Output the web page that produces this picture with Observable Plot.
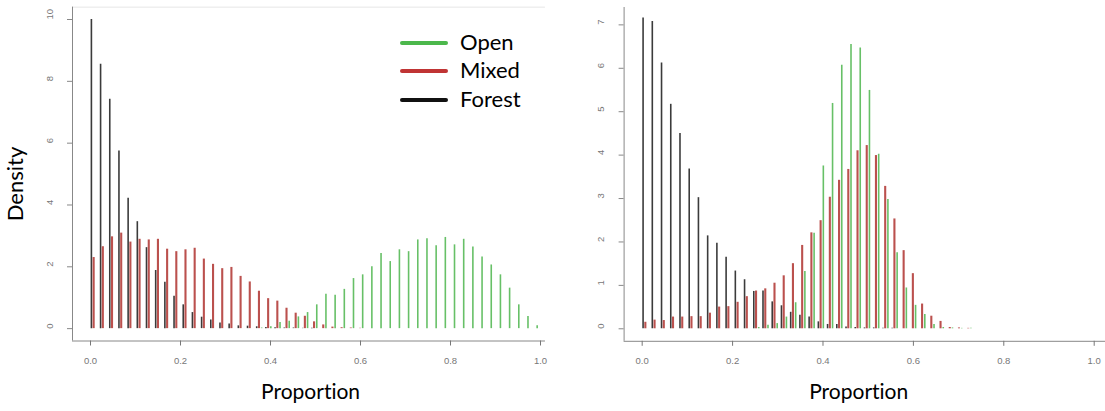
<!DOCTYPE html>
<html><head><meta charset="utf-8">
<script src="https://cdn.jsdelivr.net/npm/d3@7"></script>
<script src="https://cdn.jsdelivr.net/npm/@observablehq/plot@0.6"></script>
<style>
body{margin:0;background:#fff;}
#wrap{position:relative;width:1105px;height:411px;overflow:hidden;background:#fff;}
#left{position:absolute;left:0;top:0;}
#right{position:absolute;left:560px;top:0;}
svg text{font-variant-ligatures:none;}
.t{position:absolute;font-family:Lato,"Open Sans",sans-serif;color:#000;white-space:nowrap;font-variant-ligatures:none;}
.sw{position:absolute;height:4px;border-radius:2px;width:48px;left:400px;}
</style></head><body><div id="wrap">
<div id="left"></div><div id="right"></div>
<div class="t" id="density" style="font-size:22px;left:14px;top:184px;transform:translate(-50%,-50%) rotate(-90deg);">Density</div>
<div id="legend"></div>
</div>
<script>
// 50 discrete proportion values (k/49)
const cells = d3.range(50);
const series = ["Open", "Mixed", "Forest"];
const seriesColors = ["#4cb84c", "#c03434", "#111111"];

// Left panel densities
const forestL = [10.0, 8.55, 7.42, 5.75, 4.22, 3.46, 2.62, 1.88, 1.5, 1.05, 0.77, 0.52, 0.37, 0.28, 0.18, 0.15, 0.09, 0.08, 0.06, 0.04, 0.03, 0.02, 0.02, 0.01, 0.01, 0, 0, 0, 0, 0, 0, 0, 0, 0, 0, 0, 0, 0, 0, 0, 0, 0, 0, 0, 0, 0, 0, 0, 0, 0];
const mixedL = [2.3, 2.65, 2.97, 3.09, 2.8, 2.89, 2.87, 2.89, 2.57, 2.49, 2.55, 2.6, 2.25, 2.08, 1.94, 1.98, 1.69, 1.51, 1.21, 0.97, 0.89, 0.66, 0.5, 0.4, 0.22, 0.12, 0.05, 0.03, 0.02, 0.01, 0, 0, 0, 0, 0, 0, 0, 0, 0, 0, 0, 0, 0, 0, 0, 0, 0, 0, 0, 0];
const openL = [0, 0, 0, 0, 0, 0, 0, 0, 0, 0, 0, 0, 0, 0, 0, 0, 0, 0, 0.02, 0.06, 0.2, 0.24, 0.38, 0.52, 0.77, 1.11, 1.08, 1.27, 1.62, 1.74, 2.0, 2.43, 2.17, 2.55, 2.49, 2.87, 2.91, 2.68, 2.95, 2.71, 2.89, 2.64, 2.32, 2.06, 1.74, 1.31, 0.77, 0.39, 0.09, 0];

// Right panel densities
const forestR = [7.16, 7.08, 6.12, 5.17, 4.5, 3.68, 3.02, 2.14, 1.97, 1.65, 1.33, 1.13, 0.86, 0.87, 0.62, 0.53, 0.38, 0.31, 0.27, 0.16, 0.1, 0.1, 0.04, 0.03, 0.02, 0.02, 0.01, 0.01, 0, 0, 0, 0, 0, 0, 0, 0, 0, 0, 0, 0, 0, 0, 0, 0, 0, 0, 0, 0, 0, 0];
const mixedR = [0.15, 0.2, 0.19, 0.27, 0.27, 0.28, 0.28, 0.36, 0.5, 0.51, 0.61, 0.74, 0.87, 0.92, 1.05, 1.22, 1.5, 1.92, 2.21, 2.49, 3.03, 3.42, 3.67, 4.1, 4.22, 3.99, 3.28, 2.53, 1.8, 1.27, 0.57, 0.29, 0.17, 0.03, 0.02, 0.01, 0, 0, 0, 0, 0, 0, 0, 0, 0, 0, 0, 0, 0, 0];
const openR = [0, 0, 0, 0, 0, 0, 0, 0, 0, 0, 0, 0, 0.03, 0.08, 0.12, 0.27, 0.6, 1.32, 2.2, 3.75, 5.19, 6.07, 6.55, 6.47, 5.49, 4.02, 2.98, 1.75, 0.94, 0.54, 0.33, 0.1, 0.03, 0.02, 0.01, 0.01, 0, 0, 0, 0, 0, 0, 0, 0, 0, 0, 0, 0, 0, 0];

const xTicks = [0, 0.2, 0.4, 0.6, 0.8, 1.0];
const yTicksL = [0, 2, 4, 6, 8, 10];
const yTicksR = [0, 1, 2, 3, 4, 5, 6, 7];

function rows(vals, off) {
  return vals.map((v, k) => ({x: cells[k] / 49 + off, v})).filter(d => d.v > 0);
}

function panel(o) {
  return Plot.plot({
    width: o.width, height: 411,
    marginLeft: o.marginLeft, marginRight: o.marginRight,
    marginTop: o.marginTop, marginBottom: o.marginBottom,
    x: {domain: o.xDomain}, y: {domain: o.yDomain},
    style: {background: "transparent", fontFamily: "Arial, 'Liberation Sans', sans-serif", fontSize: "9.5px", overflow: "visible"},
    marks: [
      o.topLine ? Plot.ruleY([o.yDomain[1]], {x1: o.xDomain[0], x2: o.xEnd, stroke: "#e6e6e6"}) : null,
      Plot.ruleX(rows(o.forest, 0.002), {x: "x", y1: 0, y2: "v", stroke: "#3b3b3b", strokeWidth: 1.6}),
      Plot.ruleX(rows(o.mixed, 0.007), {x: "x", y1: 0, y2: "v", stroke: "#b5423f", strokeWidth: 2.1, strokeOpacity: 0.92}),
      Plot.ruleX(rows(o.open, 0.013), {x: "x", y1: 0, y2: "v", stroke: "#56b956", strokeWidth: 1.6, strokeOpacity: 0.9}),
      Plot.ruleY([o.yDomain[0]], {x1: o.xDomain[0], x2: o.xEnd, stroke: "#888"}),
      Plot.ruleX([o.xDomain[0]], {y1: o.yDomain[0], y2: o.yDomain[1], stroke: "#888"}),
      Plot.axisX({ticks: xTicks, tickSize: 5, tickPadding: 11, tickFormat: d3.format(".1f"), color: "#777", label: null}),
      Plot.axisY({ticks: o.yTicks, tickSize: 5, tickFormat: () => "", color: "#888", label: null}),
      Plot.text(o.yTicks, {y: d => d, text: d => String(d), frameAnchor: "left", dx: -23, rotate: -90, fontSize: 9.5, fill: "#777"}),
      Plot.text(["Proportion"], {x: () => o.propX, frameAnchor: "bottom", dy: 58, fontSize: 21, fontFamily: "Lato, 'Open Sans', sans-serif", fill: "#000"})
    ]
  });
}

document.getElementById("left").append(panel({
  forest: forestL, mixed: mixedL, open: openL,
  width: 560, marginLeft: 72, marginRight: 2, marginTop: 6.65, marginBottom: 70.5,
  xDomain: [-0.04, 1.04], xEnd: 1.011, yDomain: [-0.4, 10.4], yTicks: yTicksL, propX: 0.489, topLine: true
}));
document.getElementById("right").append(panel({
  forest: forestR, mixed: mixedR, open: openR,
  width: 545, marginLeft: 63.6, marginRight: 0, marginTop: 7, marginBottom: 70.2,
  xDomain: [-0.04, 1.025], xEnd: 1.025, yDomain: [-0.288, 7.40], yTicks: yTicksR, propX: 0.479, topLine: false
}));

// Legend (left panel)
const lg = document.getElementById("legend");
const rowY = [42.7, 70.7, 100];
series.forEach((s, i) => {
  const sw = document.createElement("div");
  sw.className = "sw";
  sw.style.top = (rowY[i] - 2) + "px";
  sw.style.background = seriesColors[i];
  lg.append(sw);
  const t = document.createElement("div");
  t.className = "t";
  t.style.left = "460px";
  t.style.top = rowY[i] + "px";
  t.style.fontSize = "22px";
  t.style.lineHeight = "1";
  t.style.transform = "translateY(-55%)";
  t.textContent = s;
  lg.append(t);
});
</script>
</body></html>
